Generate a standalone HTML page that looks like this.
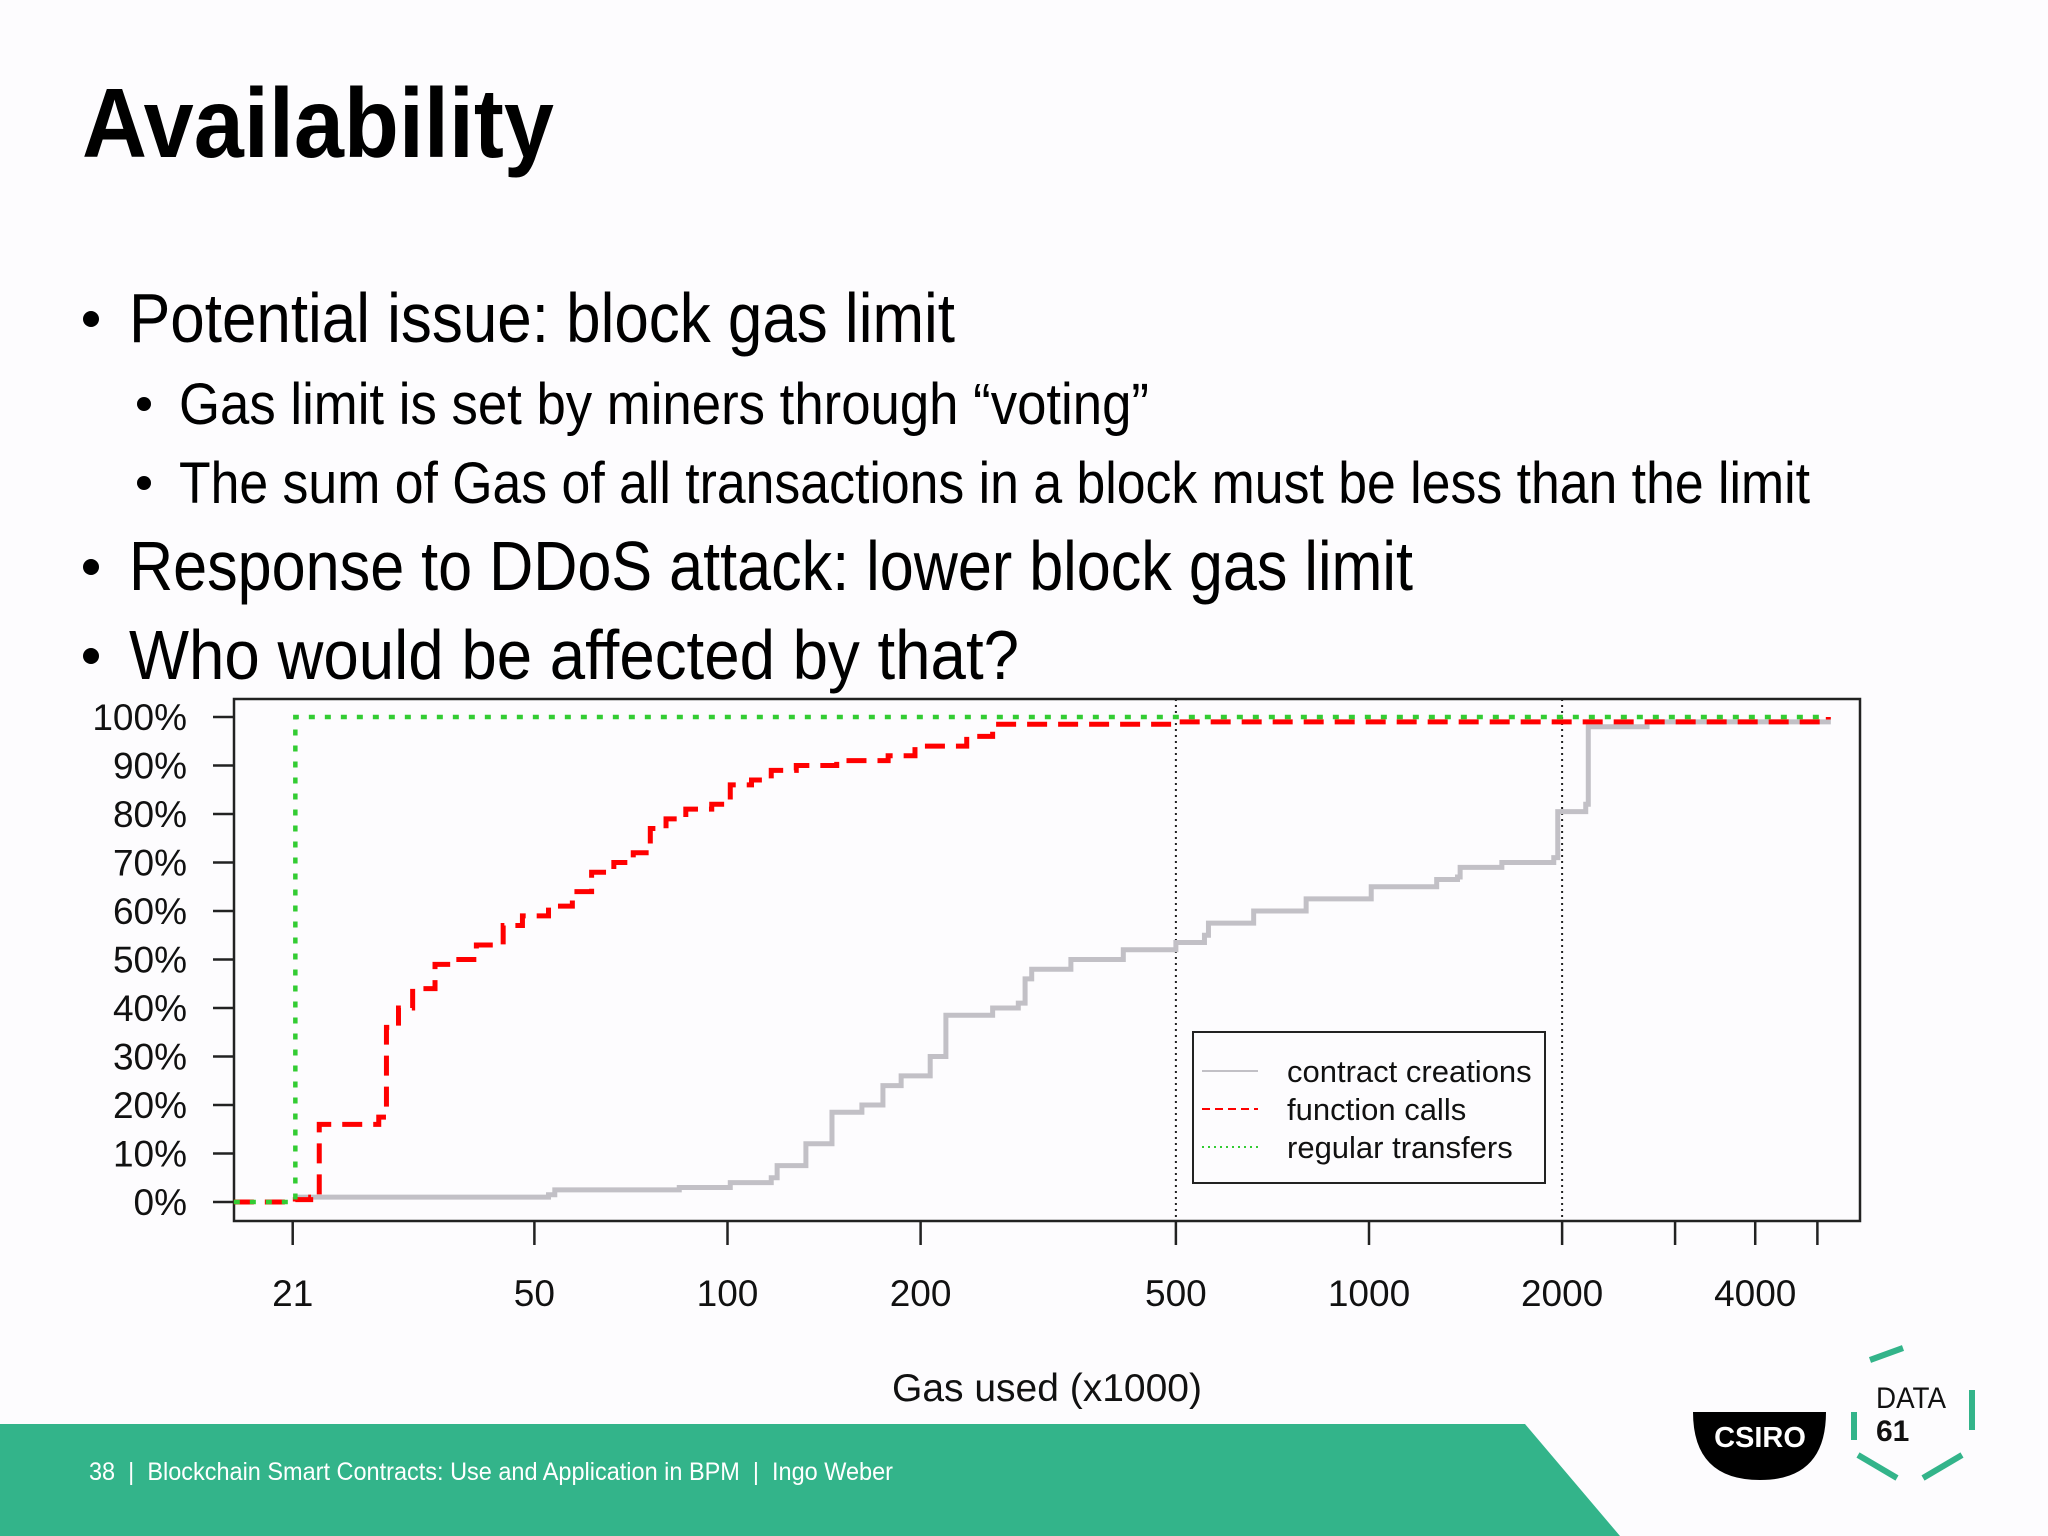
<!DOCTYPE html>
<html><head><meta charset="utf-8"><style>
html,body{margin:0;padding:0;background:#fdfcfe;}
svg{display:block;font-family:"Liberation Sans",sans-serif;}
</style></head><body>
<svg id="slide" width="2048" height="1536" viewBox="0 0 2048 1536" xmlns="http://www.w3.org/2000/svg">
<rect x="0" y="0" width="2048" height="1536" fill="#fdfcfe"/>
<text x="82" y="157" font-size="98" font-weight="bold" textLength="472" lengthAdjust="spacingAndGlyphs" fill="#000">Availability</text>
<g fill="#000">
<circle cx="91" cy="319" r="8"/>
<text x="129" y="342" font-size="70" textLength="826" lengthAdjust="spacingAndGlyphs">Potential issue: block gas limit</text>
<circle cx="144" cy="404" r="7"/>
<text x="179" y="424" font-size="58" textLength="970" lengthAdjust="spacingAndGlyphs">Gas limit is set by miners through “voting”</text>
<circle cx="144" cy="483" r="7"/>
<text x="179" y="503" font-size="58" textLength="1631" lengthAdjust="spacingAndGlyphs">The sum of Gas of all transactions in a block must be less than the limit</text>
<circle cx="91" cy="567" r="8"/>
<text x="129" y="590" font-size="70" textLength="1284" lengthAdjust="spacingAndGlyphs">Response to DDoS attack: lower block gas limit</text>
<circle cx="91" cy="656" r="8"/>
<text x="129" y="679" font-size="70" textLength="890" lengthAdjust="spacingAndGlyphs">Who would be affected by that?</text>
</g>
<g id="chart"></g>
<polygon points="0,1424 1525,1424 1620,1536 0,1536" fill="#33b48a"/>
<text x="89" y="1480" font-size="25" fill="#ffffff" textLength="804" lengthAdjust="spacingAndGlyphs">38 &#160;| &#160;Blockchain Smart Contracts: Use and Application in BPM &#160;| &#160;Ingo Weber</text>
<g>
<path d="M1693,1412 L1826,1412 Q1826,1480 1760,1480 Q1693,1480 1693,1412 Z" fill="#000"/>
<text x="1760" y="1447" font-size="29" font-weight="bold" fill="#fff" text-anchor="middle">CSIRO</text>
</g>
<g stroke="#33b48a" stroke-width="6" fill="none">
<line x1="1870" y1="1360" x2="1903" y2="1348"/>
<line x1="1854" y1="1412" x2="1854" y2="1440"/>
<line x1="1972" y1="1390" x2="1972" y2="1430"/>
<line x1="1858" y1="1455" x2="1897" y2="1478"/>
<line x1="1923" y1="1478" x2="1962" y2="1455"/>
<text x="1876" y="1408" font-size="30" fill="#111" stroke="none" textLength="70" lengthAdjust="spacingAndGlyphs">DATA</text>
<text x="1876" y="1441" font-size="30" font-weight="bold" fill="#111" stroke="none">61</text>
</g>
</svg>
<script>
const xTickValues = [21, 50, 100, 200, 500, 1000, 2000, 3000, 4000, 5000];
const xTickLabels = ["21", "50", "100", "200", "500", "1000", "2000", "", "4000", ""];
const yTickValues = [0, 10, 20, 30, 40, 50, 60, 70, 80, 90, 100];
const yTickLabels = ["0%", "10%", "20%", "30%", "40%", "50%", "60%", "70%", "80%", "90%", "100%"];
const refLines = [500, 2000];
const funcX = [17, 21.2, 22.4, 23.1, 28.6, 29.4, 30.7, 32.3, 35, 37.5, 40.6, 44.7, 47.9, 52.6, 57.3, 61.4, 66.5, 71.3, 75.8, 80.2, 86.1, 94.5, 101, 109, 117, 128, 148, 166, 178, 196, 215, 236, 259, 500, 5200];
const funcY = [0, 0.5, 1, 16, 17.5, 36, 40, 44, 49, 50, 53, 57, 59, 61, 64, 68, 70, 72, 77, 79, 81, 82, 86, 87, 89, 90, 91, 91, 92, 94, 94, 96, 98.5, 99, 100];
const contractX = [21.2, 52.6, 53.8, 84.1, 101, 117, 119.5, 132.5, 145.5, 162, 174.7, 186.5, 207, 219, 259, 284, 291, 298, 343, 414, 500, 554, 562, 661, 798, 1008, 1275, 1374, 1387, 1611, 1941, 1969, 2177, 2197, 2713, 5200];
const contractY = [1, 1.5, 2.5, 3, 4, 5, 7.5, 12, 18.5, 20, 24, 26, 30, 38.5, 40, 41, 46, 48, 50, 52, 53.5, 55, 57.5, 60, 62.5, 65, 66.5, 67, 69, 70, 71, 80.5, 82, 98, 99, 99.5];
const transferX = [17, 21.2, 5200];
const transferY = [0, 100, 100];
const legendLabels = ["contract creations", "function calls", "regular transfers"];

const NS = "http://www.w3.org/2000/svg";
const chart = document.getElementById("chart");
const L = 234, R = 1860, T = 699, B = 1221;
function xs(v) { return 727.5 + 641.5 * Math.log10(v / 100); }
function ys(p) { return 1202 - 4.85 * p; }
function mk(tag, attrs, parent) {
  const e = document.createElementNS(NS, tag);
  for (const k in attrs) e.setAttribute(k, attrs[k]);
  (parent || chart).appendChild(e);
  return e;
}
const box = mk("rect", {x: L, y: T, width: R - L, height: B - T, fill: "#fdfcfe", stroke: "#222", "stroke-width": 2.5});



refLines.forEach(v => {
  const l = mk("line", {x1: xs(v), x2: xs(v), y1: T, y2: B, stroke: "#222", "stroke-width": 2, "stroke-dasharray": "2 4"});
  
  
});

yTickValues.forEach((v, i) => {
  const t = mk("line", {x1: 213, x2: L, y1: ys(v), y2: ys(v), stroke: "#222", "stroke-width": 2.5});
  
  
  const tx = mk("text", {x: 187, y: ys(v) + 13, "font-size": 37, "text-anchor": "end", fill: "#111"});
  tx.textContent = yTickLabels[i];
  
  
});
xTickValues.forEach((v, i) => {
  const t = mk("line", {x1: xs(v), x2: xs(v), y1: B, y2: 1245, stroke: "#222", "stroke-width": 2.5});
  
  
  if (xTickLabels[i]) {
    const tx = mk("text", {x: xs(v), y: 1306, "font-size": 37, "text-anchor": "middle", fill: "#111"});
    tx.textContent = xTickLabels[i];
    
    
  }
});
const xt = mk("text", {x: 1047, y: 1401, "font-size": 39, "text-anchor": "middle", fill: "#111"});
xt.textContent = "Gas used (x1000)";



function stepPath(X, Y) {
  let d = "M" + xs(X[0]) + "," + ys(Y[0]);
  for (let i = 1; i < X.length; i++) {
    d += " L" + xs(X[i]) + "," + ys(Y[i - 1]) + " L" + xs(X[i]) + "," + ys(Y[i]);
  }
  return d;
}
const pc = mk("path", {d: stepPath(contractX, contractY), fill: "none", stroke: "#c2c0c6", "stroke-width": 5});


const pf = mk("path", {d: stepPath(funcX, funcY), fill: "none", stroke: "#ff0000", "stroke-width": 5, "stroke-dasharray": "20 11"});


const pt = mk("path", {d: stepPath(transferX, transferY), fill: "none", stroke: "#33cc33", "stroke-width": 4.5, "stroke-dasharray": "6 10"});



const lg = mk("g", {});


mk("rect", {x: 1193, y: 1032, width: 352, height: 151, fill: "#fdfcfe", stroke: "#222", "stroke-width": 2}, lg);
const lstyles = [
  {stroke: "#c2c0c6", "stroke-width": 2},
  {stroke: "#ff0000", "stroke-width": 2, "stroke-dasharray": "8 5"},
  {stroke: "#33cc33", "stroke-width": 2, "stroke-dasharray": "2 4"}
];
legendLabels.forEach((lab, i) => {
  const yy = 1071 + i * 38;
  const a = Object.assign({x1: 1202, x2: 1258, y1: yy, y2: yy}, lstyles[i]);
  const ln = mk("line", a, lg);
  
  
  const tx = mk("text", {x: 1287, y: yy + 11, "font-size": 31, fill: "#111"}, lg);
  tx.textContent = lab;
  
  
});
</script>
</body></html>
